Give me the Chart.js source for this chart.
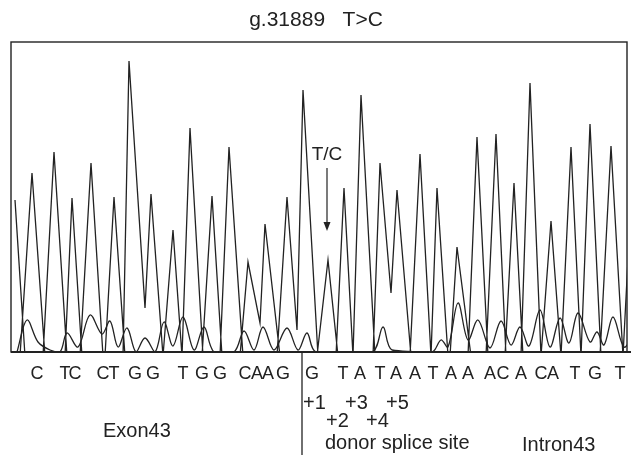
<!DOCTYPE html>
<html>
<head>
<meta charset="utf-8">
<script src="https://cdn.jsdelivr.net/npm/chart.js@4.4.1/dist/chart.umd.min.js"></script>
<style>
  html, body { margin: 0; padding: 0; background: #fff; }
  #chart_box { width: 638px; height: 455px; }
</style>
</head>
<body>
<div id="chart_box"><canvas id="chart"></canvas></div>
<script>
// main trace: scan position / signal, read peak by peak (feet below baseline)
const main_x = [15, 25,
  20, 32, 45,   43, 54, 67,   65, 72, 82,   80, 91, 103,  105, 114, 125,
  123, 129, 145, 151, 163,    163, 173, 182, 182, 190, 203, 202, 212, 222,
  220, 229, 243, 240, 248, 260, 265, 280,   277, 287, 297, 303, 318,
  317, 328, 338, 336, 344, 353, 353, 361, 375, 373, 380, 391, 397, 411,
  410, 420, 431, 430, 437, 448, 450, 457, 471, 468, 477, 488, 486, 496, 506,
  505, 514, 523, 521, 530, 541, 541, 551, 561, 561, 571, 581, 581, 590, 601,
  600, 611, 623, 623, 629];
const main_y = [152, -4,
  -4, 179, -4,  -4, 200, -4,  -4, 154, -4,  -4, 189, -4,   -4, 155, -4,
  -4, 291, 44, 158, -4,       -4, 122, -4,  -4, 224, -4,  -4, 156, -4,
  -4, 205, -4,  -4, 90, 29, 128, -4,        -4, 155, 22, 262, -4,
  -4, 92, -4,   -4, 164, -4,  -4, 257, -4,  -4, 189, 59, 162, -4,
  -4, 198, -4,  -4, 164, -4,  -4, 105, -4,  -4, 215, -4,  -4, 218, -4,
  -4, 169, -4,  -4, 269, -4,  -4, 131, -4,  -4, 205, -4,  -4, 228, -4,
  -4, 206, -4,  -4, 112];

// low background trace
const back_x = [17, 27, 38, 50, 60, 67, 78, 90, 102, 110, 118, 127, 136, 145, 155,
  164, 173, 183, 194, 204, 214, 234, 244, 254, 263, 274, 287, 298, 307, 316,
  372, 383, 392, 432, 441, 448, 458, 468, 478, 490, 501, 511, 520, 529, 540,
  550, 560, 569, 578, 590, 597, 604, 613, 624, 633];
const back_y = [0, 32, 10, 2, 0, 19, 5, 37, 18, 31, 5, 24, 0, 14, 0,
  30, 6, 35, 2, 25, 0, 0, 21, 2, 25, 2, 24, 2, 19, 0,
  0, 25, 2, 0, 12, 5, 49, 12, 32, 4, 31, 7, 25, 6, 42,
  5, 34, 9, 39, 10, 20, 7, 35, 5, 17];

// base calls
const base_letters = ['C', 'T', 'C', 'C', 'T', 'G', 'G', 'T', 'G', 'G', 'C', 'A', 'A', 'G',
  'G', 'T', 'A', 'T', 'A', 'A', 'T', 'A', 'A', 'A', 'C', 'A', 'C', 'A', 'T', 'G', 'T'];
const base_pos = [37, 65, 75, 103, 114, 135, 153, 183, 202, 220, 245, 257, 268, 283,
  312, 343, 360, 380, 396, 415, 433, 451, 468, 490, 503, 521, 541, 553, 575, 595, 620];

const exon_end = 302;
const variant_pos = 327;

function to_points(xs, ys) {
  const points = [];
  for (let i = 0; i < xs.length; i++) {
    points.push({ x: xs[i], y: ys[i] });
  }
  return points;
}

const ink = '#222';

const annotate = {
  id: 'annotate',
  afterDraw(chart) {
    const ctx = chart.ctx;
    const area = chart.chartArea;
    const x_scale = chart.scales.x;
    ctx.save();

    // frame
    ctx.strokeStyle = ink;
    ctx.lineWidth = 1.4;
    ctx.strokeRect(area.left, area.top, area.right - area.left, area.bottom - area.top);
    ctx.lineWidth = 2;
    ctx.beginPath();
    ctx.moveTo(area.left, area.bottom);
    ctx.lineTo(area.right + 4, area.bottom);
    ctx.stroke();

    ctx.fillStyle = ink;
    ctx.textBaseline = 'alphabetic';

    // title
    ctx.font = '21px "Liberation Sans", Arial, sans-serif';
    ctx.textAlign = 'center';
    ctx.fillText('g.31889   T>C', 316, 26);

    // base calls
    ctx.font = '18px "Liberation Sans", Arial, sans-serif';
    for (let i = 0; i < base_letters.length; i++) {
      ctx.fillText(base_letters[i], x_scale.getPixelForValue(base_pos[i]), 379);
    }

    // T/C marker and arrow
    const vx = x_scale.getPixelForValue(variant_pos);
    ctx.font = '19px "Liberation Sans", Arial, sans-serif';
    ctx.fillText('T/C', vx, 160);
    ctx.lineWidth = 1.2;
    ctx.beginPath();
    ctx.moveTo(vx, 168);
    ctx.lineTo(vx, 226);
    ctx.stroke();
    ctx.beginPath();
    ctx.moveTo(vx - 3.5, 222);
    ctx.lineTo(vx + 3.5, 222);
    ctx.lineTo(vx, 231);
    ctx.closePath();
    ctx.fill();

    // exon / intron boundary
    const bx = x_scale.getPixelForValue(exon_end);
    ctx.lineWidth = 1.3;
    ctx.beginPath();
    ctx.moveTo(bx, area.bottom);
    ctx.lineTo(bx, 455);
    ctx.stroke();

    // region labels
    ctx.font = '20px "Liberation Sans", Arial, sans-serif';
    ctx.textAlign = 'left';
    ctx.fillText('+1', 303, 409);
    ctx.fillText('+3', 345, 409);
    ctx.fillText('+5', 386, 409);
    ctx.fillText('+2', 326, 427);
    ctx.fillText('+4', 366, 427);
    ctx.fillText('donor splice site', 325, 449);
    ctx.fillText('Intron43', 522, 451);
    ctx.fillText('Exon43', 103, 437);

    ctx.restore();
  }
};

const chart = new Chart(document.getElementById('chart'), {
  type: 'line',
  data: {
    datasets: [{
      data: to_points(main_x, main_y),
      borderColor: ink,
      borderWidth: 1.3,
      pointRadius: 0,
      tension: 0
    }, {
      data: to_points(back_x, back_y),
      borderColor: ink,
      borderWidth: 1.3,
      pointRadius: 0,
      tension: 0.35
    }]
  },
  options: {
    responsive: true,
    maintainAspectRatio: false,
    animation: false,
    layout: { padding: { left: 11, right: 11, top: 42, bottom: 103 } },
    plugins: { legend: { display: false }, tooltip: { enabled: false } },
    scales: {
      x: { type: 'linear', min: 11, max: 627, display: false },
      y: { min: 0, max: 310, display: false }
    }
  },
  plugins: [annotate]
});
</script>
</body>
</html>
